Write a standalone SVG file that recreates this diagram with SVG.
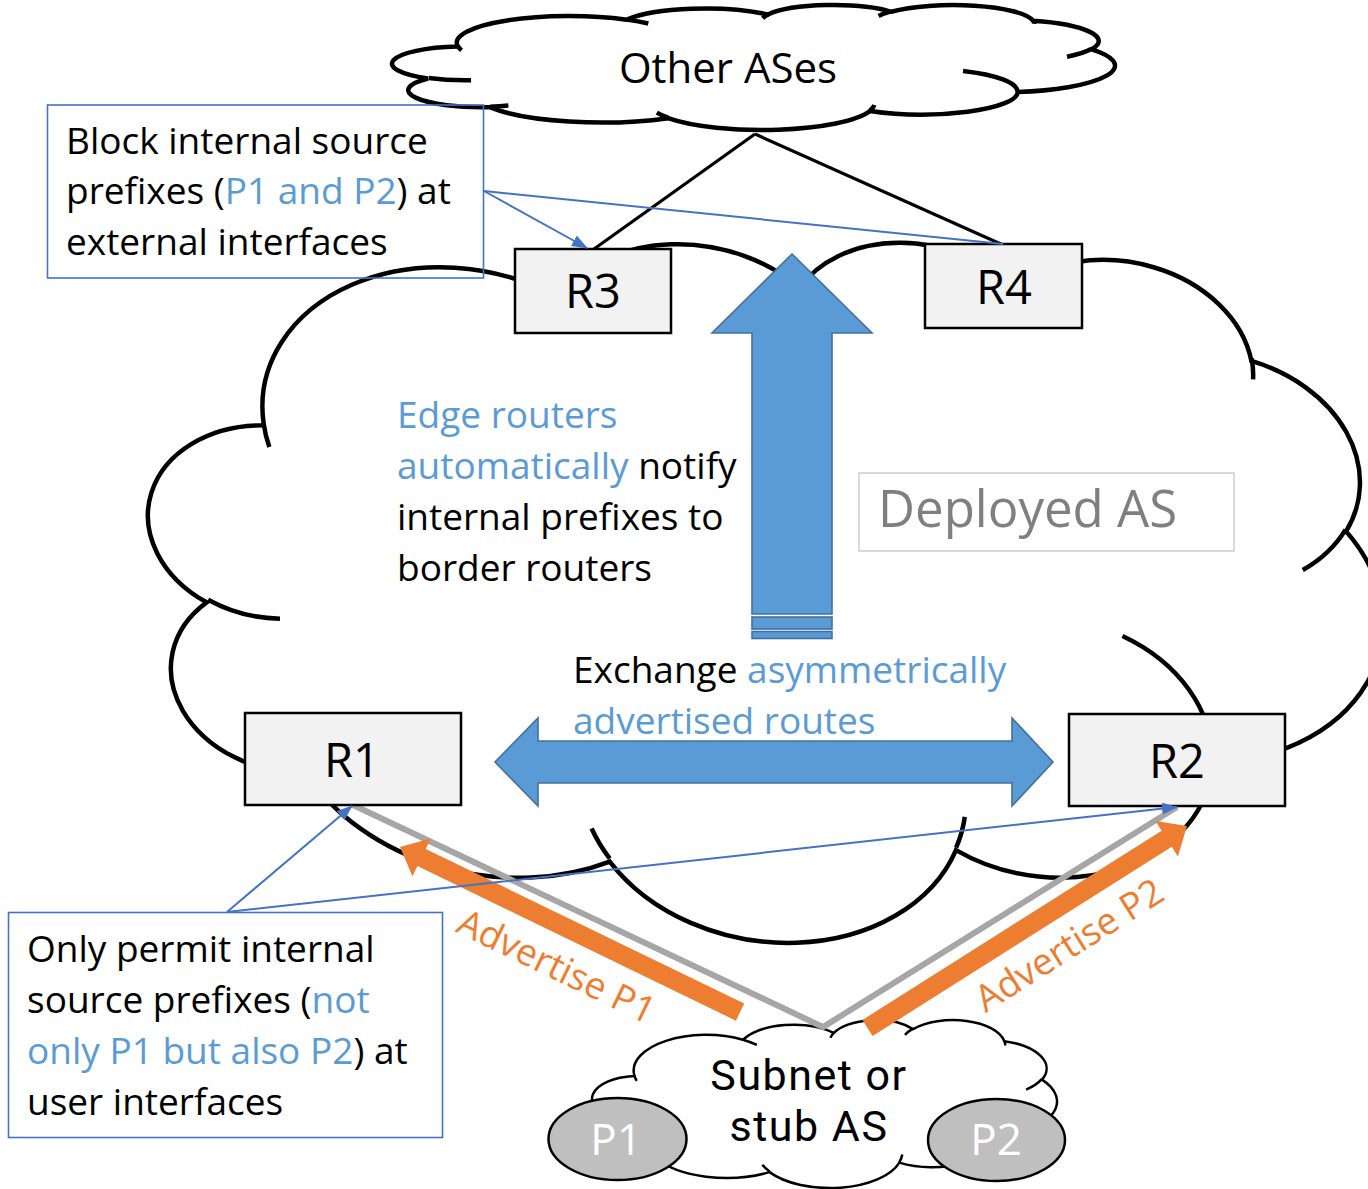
<svg xmlns="http://www.w3.org/2000/svg" xmlns:xlink="http://www.w3.org/1999/xlink" width="1368" height="1189" viewBox="0 0 1368 1189">
  <style>
    text { font-family: "Open Sans", "Noto Sans", "DejaVu Sans", sans-serif; fill: #000; }
    .body { font-size: 37px; }
    .hl { fill: #5b9bd5; }
    .cloud-o { fill: #fff; stroke: #000; }
    .cloud-i { fill: none; stroke: #000; }
    .router rect { fill: #f2f2f2; stroke: #000; stroke-width: 2.5; }
    .router text { font-size: 47px; text-anchor: middle; }
    .note { fill: none; stroke: #4472c4; stroke-width: 1.6; }
    .ptr { fill: none; stroke: #4472c4; stroke-width: 2; }
    .ptr-a { fill: none; stroke: #4472c4; stroke-width: 2; marker-end: url(#ptrHead); }
    .link { fill: none; stroke: #000; stroke-width: 3.2; }
    .blue-arrow { fill: #5b9bd5; stroke: #41719c; stroke-width: 1.6; }
    .adv { fill: #ed7d31; }
    .adv-t { font-size: 37px; fill: #ed7d31; text-anchor: middle; }
    .subnet-t { font-family: Roboto, "Open Sans", sans-serif; font-size: 43px; letter-spacing: 1.5px; text-anchor: middle; }
  </style>
  <defs>
    <!-- standard cloud outline in a 43200 x 43200 box -->
    <path id="cloudOuter" vector-effect="non-scaling-stroke" d="M3900 14370 A6753 9190 0 0 1 14006 5202 A5333 7267 0 0 1 22457 3432 A4365 5945 0 0 1 29834 2481 A4857 6595 0 0 1 38319 5577 A5333 7273 0 0 1 41819 15460 A6775 9220 0 0 1 37405 30204 A5785 7867 0 0 1 28556 36814 A6752 9215 0 0 1 16481 39265 A7720 10543 0 0 1 5806 35471 A4360 5918 0 0 1 2114 25549 A4345 5945 0 0 1 3864 14504 Z"/>
    <!-- the small inner arcs of the cloud -->
    <path id="cloudInner" vector-effect="non-scaling-stroke" d="M4693 26177 A4345 5945 0 0 1 2160 25381 M6928 34899 A4360 5918 0 0 1 5824 35281 M16478 39090 A6752 9215 0 0 1 15810 37350 M28827 34751 A6752 9215 0 0 1 28560 36660 M34129 22954 A5785 7867 0 0 1 37380 30090 M41798 15354 A5333 7273 0 0 1 40350 18030 M38324 5426 A4857 6595 0 0 1 38400 6690 M29078 3952 A4857 6595 0 0 1 29820 2340 M22141 4720 A4365 5945 0 0 1 22500 3330 M14000 5192 A6753 9190 0 0 1 15300 6540 M4127 15789 A6753 9190 0 0 1 3900 14370"/>
    <marker id="ptrHead" viewBox="0 0 16 12" refX="15" refY="6" markerWidth="16" markerHeight="12" markerUnits="userSpaceOnUse" orient="auto">
      <path d="M0 0 L16 6 L0 12 Z" fill="#4472c4"/>
    </marker>
  </defs>

  <!-- Deployed AS cloud -->
  <g id="cloud-deployed-as" transform="matrix(0.028563 0.002381 -0.000529 0.016404 159.8 178.2)">
    <use xlink:href="#cloudOuter" class="cloud-o" stroke-width="4.5"/>
    <use xlink:href="#cloudInner" class="cloud-i" stroke-width="4.5"/>
  </g>

  <!-- Other ASes cloud -->
  <g id="cloud-other-ases">
    <g transform="matrix(0.016714 0 0 0.0028924 392.6 4.6)">
      <use xlink:href="#cloudOuter" class="cloud-o" stroke-width="4.5"/>
      <use xlink:href="#cloudInner" class="cloud-i" stroke-width="4.5"/>
    </g>
    <text x="728" y="83" font-size="42" text-anchor="middle">Other ASes</text>
  </g>

  <!-- Subnet or stub AS cloud with its prefixes -->
  <g id="cloud-subnet">
    <g transform="matrix(0.01075 0 0 0.003887 592.4 1019.5)">
      <use xlink:href="#cloudOuter" class="cloud-o" stroke-width="2.5"/>
      <use xlink:href="#cloudInner" class="cloud-i" stroke-width="2.5"/>
    </g>
    <text class="subnet-t"><tspan x="809" y="1090">Subnet or</tspan><tspan x="809" y="1141">stub AS</tspan></text>
  </g>
  <g id="prefix-p1">
    <ellipse cx="617.5" cy="1139" rx="69" ry="41" fill="#bfbfbf" stroke="#000" stroke-width="2.5"/>
    <text x="616" y="1155" font-size="44" text-anchor="middle" style="fill:#fff">P1</text>
  </g>
  <g id="prefix-p2">
    <ellipse cx="996.5" cy="1140" rx="68.5" ry="41" fill="#bfbfbf" stroke="#000" stroke-width="2.5"/>
    <text x="996" y="1155" font-size="44" text-anchor="middle" style="fill:#fff">P2</text>
  </g>

  <!-- Deployed AS label box -->
  <g id="label-deployed-as">
    <rect x="859" y="473" width="375" height="78" fill="#fff" stroke="#d9d9d9" stroke-width="2"/>
    <text x="878" y="527" font-size="51" style="fill:#7f7f7f">Deployed AS</text>
  </g>

  <!-- block arrow: edge routers notify border routers -->
  <g id="arrow-notify">
    <polygon class="blue-arrow" points="792,254 872,333 832,333 832,614 752,614 752,333 712,333"/>
    <rect class="blue-arrow" x="752" y="617" width="80" height="12"/>
    <rect class="blue-arrow" x="752" y="631.5" width="80" height="7"/>
  </g>

  <!-- block arrow: route exchange between R1 and R2 -->
  <g id="arrow-exchange">
    <polygon class="blue-arrow" points="495,762 538,718 538,741 1012,741 1012,718 1053,762 1012,806 1012,783 538,783 538,806"/>
  </g>

  <g id="connectors">
    <!-- peering links to other ASes -->
    <line class="link" x1="755" y1="134" x2="594" y2="249"/>
    <line class="link" x1="755" y1="134" x2="1003" y2="245"/>
    <!-- access links from the subnet -->
    <polyline points="353,805 823,1027 1177,807" fill="none" stroke="#a6a6a6" stroke-width="6" stroke-linejoin="miter"/>
    <!-- advertisement arrows -->
    <polygon class="adv" transform="translate(400 847) rotate(205.9)" points="0,0 -24,-21 -24,-9.5 -378,-9.5 -378,9.5 -24,9.5 -24,21"/>
    <polygon class="adv" transform="translate(1187 826) rotate(-32.3)" points="0,0 -24,-21 -24,-9.5 -378,-9.5 -378,9.5 -24,9.5 -24,21"/>
  </g>

  <g id="label-adv-p1">
    <text class="adv-t" transform="translate(551 978) rotate(25.9)">Advertise P1</text>
  </g>
  <g id="label-adv-p2">
    <text class="adv-t" transform="translate(1076 956) rotate(-32.3)">Advertise P2</text>
  </g>

  <!-- routers -->
  <g id="router-r3" class="router">
    <rect x="515" y="249" width="156" height="84"/>
    <text x="593" y="308">R3</text>
  </g>
  <g id="router-r4" class="router">
    <rect x="925" y="244" width="157" height="84"/>
    <text x="1004" y="304">R4</text>
  </g>
  <g id="router-r1" class="router">
    <rect x="245" y="713" width="216" height="92"/>
    <text x="352" y="777">R1</text>
  </g>
  <g id="router-r2" class="router">
    <rect x="1069" y="714" width="216" height="92"/>
    <text x="1177" y="778">R2</text>
  </g>

  <!-- notes -->
  <g id="note-block">
    <rect class="note" x="47.5" y="105" width="436" height="173"/>
    <text class="body"><tspan x="66" y="154">Block internal source</tspan><tspan x="66" y="204">prefixes (<tspan class="hl">P1 and P2</tspan>) at</tspan><tspan x="66" y="255">external interfaces</tspan></text>
  </g>
  <g id="note-permit">
    <rect class="note" x="8.5" y="912.5" width="434" height="225"/>
    <text class="body"><tspan x="27" y="962">Only permit internal</tspan><tspan x="27" y="1013">source prefixes (<tspan class="hl">not</tspan></tspan><tspan x="27" y="1064"><tspan class="hl">only P1 but also P2</tspan>) at</tspan><tspan x="27" y="1115">user interfaces</tspan></text>
  </g>
  <g id="label-notify">
    <text class="body"><tspan x="397" y="428" class="hl">Edge routers</tspan><tspan x="397" y="479"><tspan class="hl">automatically</tspan> notify</tspan><tspan x="397" y="530">internal prefixes to</tspan><tspan x="397" y="581">border routers</tspan></text>
  </g>
  <g id="label-exchange">
    <text class="body"><tspan x="573" y="683">Exchange <tspan class="hl">asymmetrically</tspan></tspan><tspan x="573" y="734" class="hl">advertised routes</tspan></text>
  </g>

  <!-- callout pointers -->
  <g id="pointers">
    <line class="ptr-a" x1="484" y1="191" x2="587" y2="248"/>
    <line class="ptr" x1="484" y1="191" x2="1003" y2="244"/>
    <line class="ptr-a" x1="227" y1="912" x2="352" y2="806"/>
    <line class="ptr-a" x1="227" y1="912" x2="1177" y2="807"/>
  </g>
</svg>
